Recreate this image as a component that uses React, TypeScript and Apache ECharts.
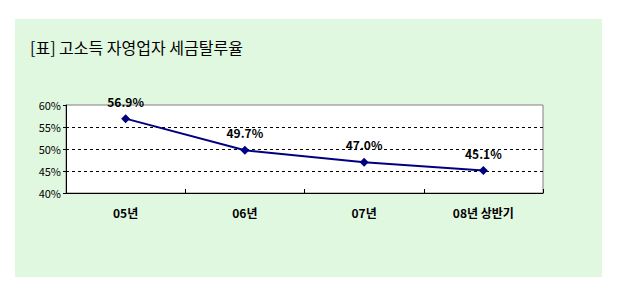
import React, { useEffect, useRef } from "react";
import * as echarts from "echarts";

const title = "[표] 고소득 자영업자 세금탈루율";
const categories = ["05년", "06년", "07년", "08년 상반기"];
const values = [56.9, 49.7, 47.0, 45.1];
const gridValues = [45, 50, 55];
const yMin = 40;
const yMax = 60;
const yInterval = 5;

export default function App() {
  const ref = useRef<HTMLDivElement>(null);
  useEffect(() => {
    document.body.style.margin = "0";
    const chart = echarts.init(ref.current!, null, { renderer: "svg" });
    const font = "'Noto Sans CJK KR', 'DejaVu Sans', sans-serif";
    chart.setOption({
      animation: false,
      backgroundColor: "#ffffff",
      graphic: [
        {
          type: "rect",
          shape: { x: 15, y: 19, width: 587, height: 258 },
          style: { fill: "#E1F8E0" },
          z: -10,
        },
        {
          type: "text",
          x: 30,
          y: 47,
          style: {
            text: title,
            font: `16px ${font}`,
            fill: "#000",
            verticalAlign: "middle",
          },
        },
      ],
      grid: {
        left: 66,
        top: 105,
        right: 78,
        bottom: 102,
        show: true,
        backgroundColor: "#ffffff",
        borderColor: "#808080",
        borderWidth: 1,
      },
      xAxis: {
        type: "category",
        data: categories,
        boundaryGap: true,
        axisLine: { lineStyle: { color: "#000", width: 1 } },
        axisTick: { show: true, inside: true, length: 4, lineStyle: { color: "#000" } },
        axisLabel: { color: "#000", fontSize: 12, fontWeight: "bold", fontFamily: font, margin: 13 },
        splitLine: { show: false },
      },
      yAxis: {
        type: "value",
        min: yMin,
        max: yMax,
        interval: yInterval,
        axisLine: { show: true, lineStyle: { color: "#000", width: 1 } },
        axisTick: { show: true, length: 3, lineStyle: { color: "#000" } },
        axisLabel: { color: "#000", fontSize: 11, fontFamily: font, formatter: "{value}%", margin: 5 },
        splitLine: { show: false },
      },
      series: [
        {
          type: "line",
          data: values,
          symbol: "diamond",
          symbolSize: 9,
          itemStyle: { color: "#000080" },
          lineStyle: { color: "#000080", width: 2 },
          label: {
            show: true,
            position: "top",
            distance: 7,
            color: "#000",
            fontSize: 12,
            fontWeight: "bold",
            fontFamily: font,
            formatter: (p: any) => `${p.value.toFixed(1)}%`,
          },
          markLine: {
            silent: true,
            symbol: "none",
            label: { show: false },
            lineStyle: { color: "#000", type: [3, 3], width: 1 },
            data: gridValues.map((v) => ({ yAxis: v })),
            z: 1,
          },
          z: 5,
        },
      ],
    });
    return () => chart.dispose();
  }, []);
  return <div ref={ref} style={{ width: 621, height: 295 }} />;
}
